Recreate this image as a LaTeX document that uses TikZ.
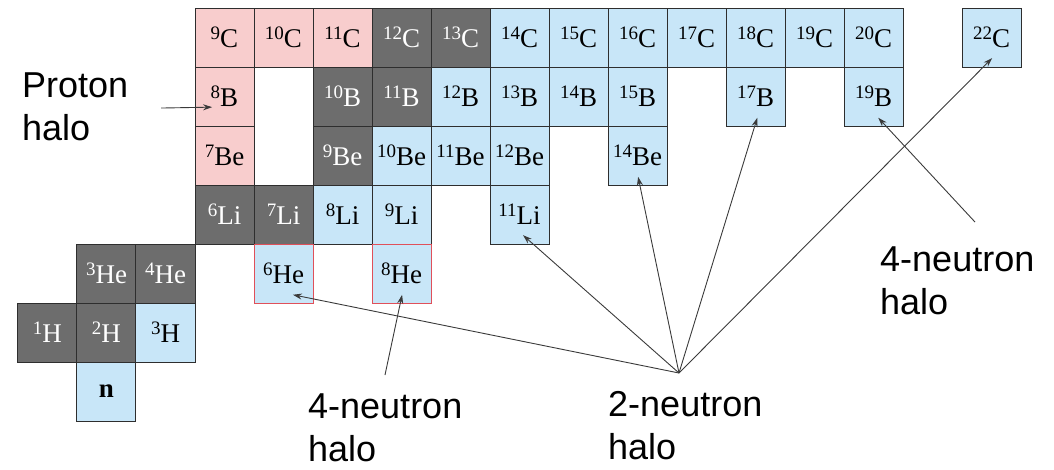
\documentclass[tikz,border=0pt]{standalone}
\usepackage{fontspec}
\setmainfont{Liberation Serif}
\newfontfamily\labelfont{Liberation Sans}
\usetikzlibrary{arrows.meta}

\definecolor{haloPink}{HTML}{F8CDCD}
\definecolor{haloBlue}{HTML}{C8E6F8}
\definecolor{stableGrey}{HTML}{6D6D6D}
\definecolor{cellEdge}{HTML}{2E2E2E}
\definecolor{haloRed}{HTML}{E0505A}
\definecolor{arrowGrey}{HTML}{3A3A3A}

\tikzset{
	cell/.style={draw=cellEdge, line width=1pt, minimum size=59pt, inner sep=0pt, font=\fontsize{27}{30}\selectfont},
	pinkcell/.style={cell, fill=haloPink},
	bluecell/.style={cell, fill=haloBlue},
	greycell/.style={cell, fill=stableGrey, text=white},
	redcell/.style={cell, fill=haloBlue, draw=haloRed},
	halo/.style={draw=arrowGrey, line width=0.9pt, -{Stealth[length=9pt,width=6pt]}},
	caption/.style={font=\labelfont\fontsize{36}{43}\selectfont, align=left, inner sep=0pt, anchor=base west},
}
\newcommand{\iso}[2]{{\fontsize{19}{20}\selectfont\raisebox{8pt}{#1}}#2}

\begin{document}
\begin{tikzpicture}[x=59pt, y=-59pt]
			\useasboundingbox (-0.305,-0.136) rectangle (17.559,7.814);
			
			% carbon
			\foreach \a/\c in {9/3,10/4,11/5}
				\node[pinkcell] (C\a) at (\c+0.5,0.5) {\iso{\a}{C}};
			\foreach \a/\c in {12/6,13/7}
				\node[greycell] (C\a) at (\c+0.5,0.5) {\iso{\a}{C}};
			\foreach \a/\c in {14/8,15/9,16/10,17/11,18/12,19/13,20/14,22/16}
				\node[bluecell] (C\a) at (\c+0.5,0.5) {\iso{\a}{C}};
			
			% boron
			\node[pinkcell] (B8) at (3.5,1.5) {\iso{8}{B}};
			\foreach \a/\c in {10/5,11/6}
				\node[greycell] (B\a) at (\c+0.5,1.5) {\iso{\a}{B}};
			\foreach \a/\c in {12/7,13/8,14/9,15/10,17/12,19/14}
				\node[bluecell] (B\a) at (\c+0.5,1.5) {\iso{\a}{B}};
			
			% beryllium
			\node[pinkcell] (Be7) at (3.5,2.5) {\iso{7}{Be}};
			\node[greycell] (Be9) at (5.5,2.5) {\iso{9}{Be}};
			\foreach \a/\c in {10/6,11/7,12/8,14/10}
				\node[bluecell] (Be\a) at (\c+0.5,2.5) {\iso{\a}{Be}};
			
			% lithium
			\foreach \a/\c in {6/3,7/4}
				\node[greycell] (Li\a) at (\c+0.5,3.5) {\iso{\a}{Li}};
			\foreach \a/\c in {8/5,9/6,11/8}
				\node[bluecell] (Li\a) at (\c+0.5,3.5) {\iso{\a}{Li}};
			
			% helium, hydrogen, neutron
			\node[greycell] (He3) at (1.5,4.5) {\iso{3}{He}};
			\node[greycell] (He4) at (2.5,4.5) {\iso{4}{He}};
			\node[greycell] (H1) at (0.5,5.5) {\iso{1}{H}};
			\node[greycell] (H2) at (1.5,5.5) {\iso{2}{H}};
			\node[bluecell] (H3) at (2.5,5.5) {\iso{3}{H}};
			\node[bluecell] (n) at (1.5,6.5) {\textbf{n}};
			\node[redcell] (He6) at (4.5,4.5) {\iso{6}{He}};
			\node[redcell] (He8) at (6.5,4.5) {\iso{8}{He}};
			
			% labels
			\node[caption] (proton) at (0.068,2.25) {Proton\\halo};
			\node[caption] (fourR) at (14.61,5.2) {4-neutron\\halo};
			\node[caption] (fourB) at (4.915,7.69) {4-neutron\\halo};
			\node[caption] (two) at (10.0,7.66) {2-neutron\\halo};
			
			\coordinate (pStart) at (2.424,1.695);
			\coordinate (twoStart) at (11.203,6.186);
			\coordinate (fourBStart) at (6.22,6.22);
			\coordinate (fourRStart) at (16.22,3.627);
			
			\draw[halo] (pStart) -- ([shift={(-0.21,0.18)}]B8.center);
			\draw[halo] (fourBStart) -- ([shift={(0.01,0.36)}]He8.center);
			\draw[halo] (fourRStart) -- ([shift={(0.08,0.36)}]B19.center);
			\draw[halo] (twoStart) -- ([shift={(0.16,0.36)}]He6.center);
			\draw[halo] (twoStart) -- ([shift={(0.06,0.35)}]Li11.center);
			\draw[halo] (twoStart) -- ([shift={(0.01,0.36)}]Be14.center);
			\draw[halo] (twoStart) -- ([shift={(0.03,0.36)}]B17.center);
			\draw[halo] (twoStart) -- ([shift={(0.01,0.35)}]C22.center);
			
		\end{tikzpicture}
\end{document}
